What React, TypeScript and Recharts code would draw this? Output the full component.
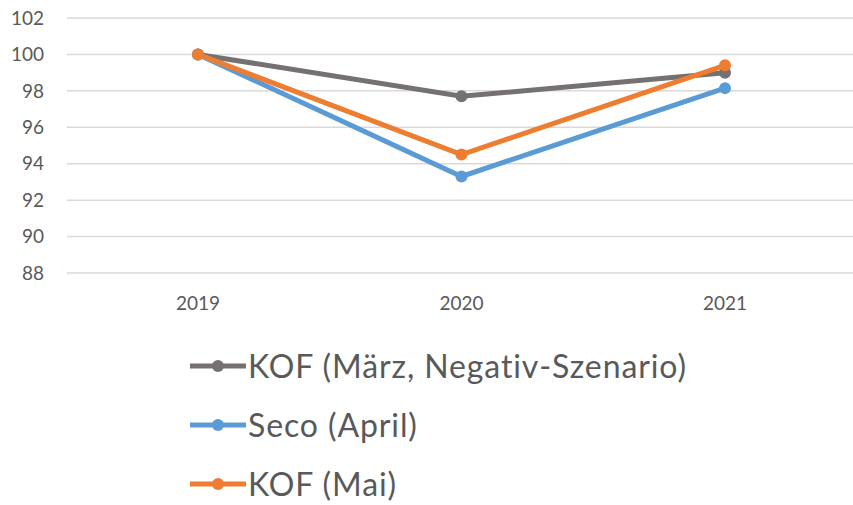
import { LineChart, Line, XAxis, YAxis, CartesianGrid, Legend } from "recharts";

const years = ["2019", "2020", "2021"];
const kofMaerz = [100, 97.7, 99.0];
const seco = [100, 93.3, 98.15];
const kofMai = [100, 94.5, 99.4];
const yTicks = [88, 90, 92, 94, 96, 98, 100, 102];

const series = [
  { key: "kofMaerz", name: "KOF (März, Negativ-Szenario)", color: "#767171" },
  { key: "seco", name: "Seco (April)", color: "#5B9BD5" },
  { key: "kofMai", name: "KOF (Mai)", color: "#ED7D31" },
];

const data = years.map((y, i) => ({
  year: y,
  kofMaerz: kofMaerz[i],
  seco: seco[i],
  kofMai: kofMai[i],
}));

const font = "Lato, 'Open Sans', sans-serif";

function LegendBox() {
  return (
    <div style={{ height: 182, paddingTop: 13, boxSizing: "border-box", paddingLeft: 190 }}>
      {series.map((s) => (
        <div key={s.key} style={{ height: 59, display: "flex", alignItems: "center" }}>
          <svg width={56} height={14} style={{ marginRight: 2 }}>
            <line x1={0} y1={7} x2={56} y2={7} stroke={s.color} strokeWidth={5} strokeLinecap="round" />
            <circle cx={28} cy={7} r={6} fill={s.color} />
          </svg>
          <span style={{ fontFamily: font, fontSize: 32, lineHeight: 1, letterSpacing: 0.9, color: "#595959" }}>
            {s.name}
          </span>
        </div>
      ))}
    </div>
  );
}

export default function App() {
  return (
    <div style={{ position: "absolute", left: 0, top: 0, background: "#fff" }}>
      <LineChart width={858} height={505} data={data} margin={{ top: 18, right: 2, left: 0, bottom: 0 }}>
        <CartesianGrid vertical={false} stroke="#d9d9d9" strokeWidth={1.5} />
        <XAxis
          dataKey="year"
          axisLine={false}
          tickLine={false}
          tickSize={0}
          tickMargin={24}
          height={50}
          padding={{ left: 131, right: 131 }}
          tick={{ fill: "#595959", fontSize: 19, fontFamily: font }}
        />
        <YAxis
          domain={[88, 102]}
          ticks={yTicks}
          axisLine={false}
          tickLine={false}
          tickSize={0}
          tickMargin={23}
          width={67}
          tick={{ fill: "#595959", fontSize: 19, fontFamily: font }}
        />
        <Legend verticalAlign="bottom" content={() => <LegendBox />} />
        {series.map((s) => (
          <Line
            key={s.key}
            dataKey={s.key}
            name={s.name}
            stroke={s.color}
            strokeWidth={5}
            dot={{ r: 6, fill: s.color, stroke: s.color, strokeWidth: 0 }}
            activeDot={false}
            isAnimationActive={false}
          />
        ))}
      </LineChart>
    </div>
  );
}
